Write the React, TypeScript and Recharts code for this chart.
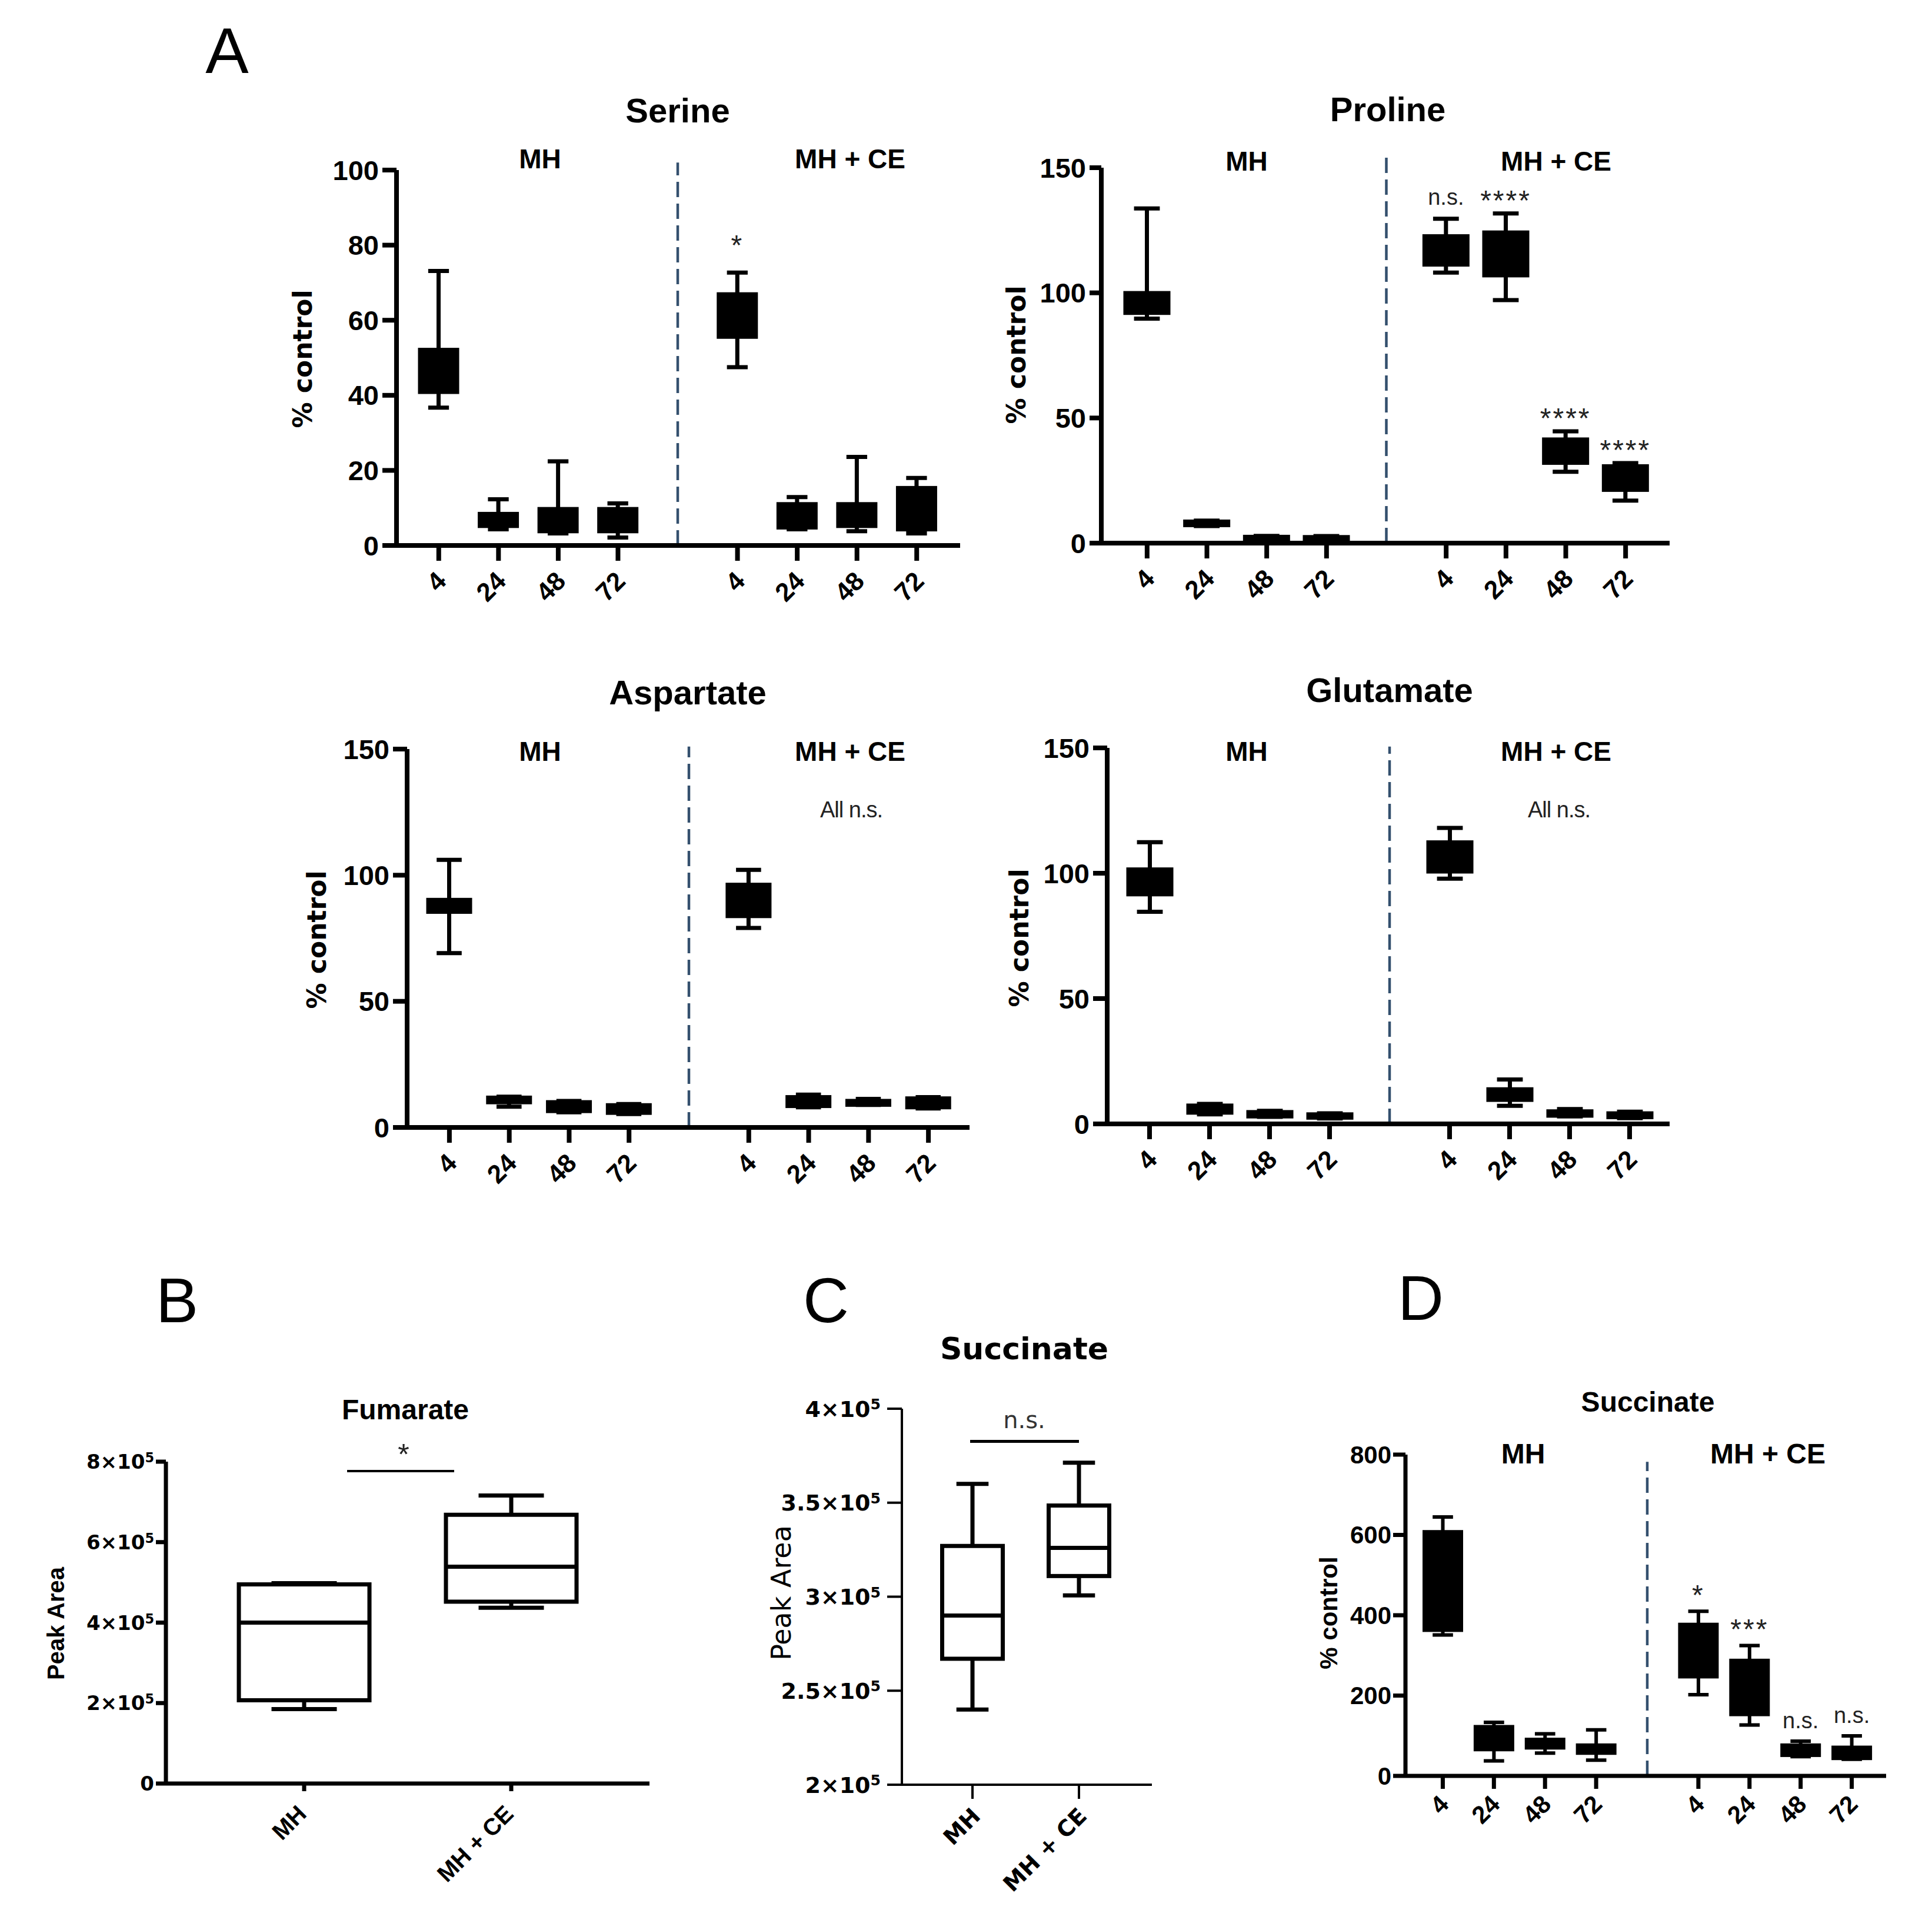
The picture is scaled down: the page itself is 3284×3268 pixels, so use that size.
import React from 'react';
import { ComposedChart, Bar, XAxis, YAxis, ReferenceLine, LabelList } from 'recharts';

// ---------- categories ----------
const hours = ['4', '24', '48', '72'];
const groups = ['MH', 'MH + CE'];

// ---------- Serine (% control) ----------
const serineMin = [36.7, 4.3, 3.2, 2.1, 47.5, 4.3, 3.8, 3.2];
const serineQ1 = [40.9, 5.2, 3.8, 3.8, 55.6, 4.8, 5.2, 4.3];
const serineMedian = [46, 7, 6, 6, 61, 8, 8, 9];
const serineQ3 = [52.1, 8.4, 9.7, 9.7, 66.9, 11.0, 11.0, 15.3];
const serineMax = [73.1, 12.3, 22.4, 11.2, 72.7, 12.9, 23.6, 18.0];
const serineSig = ['', '', '', '', '*', '', '', ''];
const serineTicks = [0, 20, 40, 60, 80, 100];

// ---------- Proline ----------
const prolineMin = [89.7, 6.8, 0.9, 0.9, 108.1, 97.1, 28.5, 17.0];
const prolineQ1 = [92.0, 7.2, 1.2, 1.1, 111.3, 107.0, 32.1, 21.3];
const prolineMedian = [96, 8, 2, 2, 117, 115, 37, 26];
const prolineQ3 = [99.9, 8.6, 2.5, 2.4, 122.6, 124.1, 41.4, 30.7];
const prolineMax = [133.7, 9.0, 2.9, 2.8, 129.6, 131.7, 44.7, 32.0];
const prolineSig = ['', '', '', '', 'n.s.', '****', '****', '****'];

// ---------- Aspartate ----------
const aspartateMin = [69.1, 8.2, 6.0, 5.3, 79.1, 8.0, 8.9, 7.5];
const aspartateQ1 = [85.5, 10.0, 6.5, 5.8, 83.8, 8.5, 9.0, 8.0];
const aspartateMedian = [88, 11, 8, 7, 90, 10, 10, 10];
const aspartateQ3 = [90.2, 11.8, 10.0, 8.8, 96.2, 12.0, 10.5, 11.5];
const aspartateMax = [106.1, 12.2, 10.5, 9.3, 102.1, 13.0, 11.3, 12.0];

// ---------- Glutamate ----------
const glutamateMin = [84.6, 3.8, 2.8, 2.2, 97.8, 7.2, 3.0, 2.3];
const glutamateQ1 = [91.6, 4.5, 3.0, 2.5, 100.7, 9.6, 3.3, 2.7];
const glutamateMedian = [97, 6, 4, 3, 107, 12, 4, 3.5];
const glutamateQ3 = [101.5, 7.3, 4.7, 3.8, 112.3, 13.8, 5.0, 4.2];
const glutamateMax = [112.4, 8.0, 5.2, 4.2, 118.1, 17.7, 5.9, 4.9];

const aminoTicks = [0, 50, 100, 150];

// ---------- Succinate (% control), panel D ----------
const succPctMin = [350.8, 37.2, 56.8, 39.3, 202.2, 126.8, 48.1, 41.5];
const succPctQ1 = [362.8, 65.6, 69.9, 56.8, 247.0, 153.0, 51.4, 43.7];
const succPctMedian = [480, 100, 80, 65, 310, 220, 65, 55];
const succPctQ3 = [607.7, 122.4, 90.7, 76.5, 377.0, 287.4, 76.5, 71.0];
const succPctMax = [644.8, 133.3, 104.9, 114.8, 409.8, 324.6, 86.3, 99.5];
const succPctSig = ['', '', '', '', '*', '***', 'n.s.', 'n.s.'];
const succPctTicks = [0, 200, 400, 600, 800];

// ---------- Fumarate peak area, panel B ----------
const fumarateMin = [185000, 437000];
const fumarateQ1 = [207000, 452000];
const fumarateMedian = [400000, 539000];
const fumarateQ3 = [495000, 668000];
const fumarateMax = [498000, 716000];
const fumarateTicks = [0, 200000, 400000, 600000, 800000];

// ---------- Succinate peak area, panel C ----------
const succAreaMin = [240000, 300700];
const succAreaQ1 = [267000, 311000];
const succAreaMedian = [290000, 326000];
const succAreaQ3 = [327000, 348500];
const succAreaMax = [360000, 371300];
const succAreaTicks = [200000, 250000, 300000, 350000, 400000];

const ARIAL = "'Liberation Sans', Arial, Helvetica, sans-serif";
const DEJAVU = "'DejaVu Sans', Verdana, sans-serif";

type Row = {
  key: string;
  range?: [number, number];
  q1?: number;
  med?: number;
  q3?: number;
  sig?: string;
};

function buildTimeRows(mn: number[], q1: number[], med: number[], q3: number[], mx: number[], sig?: string[]): Row[] {
  const rows: Row[] = [];
  groups.forEach((g, gi) => {
    if (gi === 1) rows.push({ key: 'sep' });
    hours.forEach((h, hi) => {
      const i = gi * hours.length + hi;
      rows.push({ key: `${g}|${h}`, range: [mn[i], mx[i]], q1: q1[i], med: med[i], q3: q3[i], sig: sig ? sig[i] : '' });
    });
  });
  return rows;
}

function buildGroupRows(mn: number[], q1: number[], med: number[], q3: number[], mx: number[]): Row[] {
  return groups.map((g, i) => ({ key: g, range: [mn[i], mx[i]] as [number, number], q1: q1[i], med: med[i], q3: q3[i], sig: '' }));
}

const makeBoxShape = (fill: string, lw: number, capRatio: number, median: boolean) => (props: any) => {
  const { x, y, width, height, payload } = props;
  if (!payload || !payload.range || width == null || y == null) return <g />;
  const [mn, mx] = payload.range;
  const top = Math.min(y, y + height);
  const h = Math.abs(height);
  const k = mx === mn ? 0 : h / (mx - mn);
  const py = (v: number) => top + (mx - v) * k;
  const cx = x + width / 2;
  const ch = (width * capRatio) / 2;
  const s = { stroke: '#000', strokeWidth: lw };
  return (
    <g>
      <line x1={cx} x2={cx} y1={py(mx)} y2={py(payload.q3)} {...s} />
      <line x1={cx} x2={cx} y1={py(payload.q1)} y2={py(mn)} {...s} />
      <line x1={cx - ch} x2={cx + ch} y1={py(mx)} y2={py(mx)} {...s} />
      <line x1={cx - ch} x2={cx + ch} y1={py(mn)} y2={py(mn)} {...s} />
      <rect x={x} y={py(payload.q3)} width={width} height={Math.max(0, py(payload.q1) - py(payload.q3))} fill={fill} {...s} />
      {median && <line x1={x} x2={x + width} y1={py(payload.med)} y2={py(payload.med)} {...s} />}
    </g>
  );
};

type PanelProps = {
  rows: Row[];
  plot: { left: number; top: number; right: number; bottom: number };
  domain: [number, number];
  ticks: number[];
  padL: number;
  padR: number;
  barSize: number;
  capRatio: number;
  lw: number;
  fill: string;
  median: boolean;
  axisW: number;
  yTickLen: number;
  yTickMargin: number;
  yFont: { size: number; family: string; weight: number };
  expTicks?: boolean;
  xTickLen: number;
  xDx: number;
  xDy: number;
  xFont: { size: number; family: string; weight: number };
  sepTop?: number;
  starOff?: number;
  nsOff?: number;
};

const YW = 230;
const XH = 240;
const MT = 90;
const MR = 40;

function ExpTick(props: any) {
  const { x, y, payload, font } = props;
  const v = payload.value as number;
  const common = { fontSize: font.size, fontFamily: font.family, fontWeight: font.weight, fill: '#000' };
  if (v === 0) {
    return (
      <text x={x} y={y} dy="0.36em" textAnchor="end" {...common}>0</text>
    );
  }
  const m = v / 100000;
  return (
    <text x={x} y={y} dy="0.36em" textAnchor="end" {...common}>
      {`${m}×10`}
      <tspan dy="-0.5em" fontSize={font.size * 0.66}>5</tspan>
    </text>
  );
}

function Panel(p: PanelProps) {
  const W = p.plot.right - p.plot.left + YW + MR;
  const H = p.plot.bottom - p.plot.top + MT + XH;
  const xTick = (tp: any) => {
    const { x, y, payload } = tp;
    const v = String(payload.value);
    if (v === 'sep') return <g />;
    const label = v.split('|').pop();
    const ax = x + p.xDx;
    const ay = y + p.xDy;
    return (
      <g>
        <line x1={x} x2={x} y1={y} y2={y + p.xTickLen} stroke="#000" strokeWidth={p.axisW} />
        <text
          x={ax}
          y={ay}
          dy="0.36em"
          textAnchor="end"
          transform={`rotate(-45 ${ax} ${ay})`}
          fontSize={p.xFont.size}
          fontFamily={p.xFont.family}
          fontWeight={p.xFont.weight}
          fill="#000"
        >
          {label}
        </text>
      </g>
    );
  };
  const sigContent = (lp: any) => {
    const { x, y, width, value } = lp;
    if (!value) return null;
    const ns = value === 'n.s.';
    return (
      <text
        x={x + width / 2}
        y={y - (ns ? p.nsOff ?? 20 : p.starOff ?? 10)}
        textAnchor="middle"
        fontFamily={ARIAL}
        fontSize={ns ? 38 : 48}
        letterSpacing={ns ? 0 : 3}
        fill="#222"
      >
        {value}
      </text>
    );
  };
  return (
    <div style={{ position: 'absolute', left: p.plot.left - YW, top: p.plot.top - MT, width: W, height: H }}>
      <ComposedChart width={W} height={H} data={p.rows} margin={{ top: MT, right: MR, left: 0, bottom: 0 }}>
        <XAxis
          dataKey="key"
          type="category"
          interval={0}
          height={XH}
          padding={{ left: p.padL, right: p.padR }}
          axisLine={{ stroke: '#000', strokeWidth: p.axisW }}
          tickLine={false}
          tickSize={0}
          tickMargin={0}
          tick={xTick}
        />
        <YAxis
          type="number"
          domain={p.domain}
          ticks={p.ticks}
          interval={0}
          width={YW}
          allowDataOverflow
          axisLine={{ stroke: '#000', strokeWidth: p.axisW }}
          tickLine={{ stroke: '#000', strokeWidth: p.axisW }}
          tickSize={p.yTickLen}
          tickMargin={p.yTickMargin}
          tick={
            p.expTicks
              ? (tp: any) => <ExpTick {...tp} font={p.yFont} />
              : { fontSize: p.yFont.size, fontFamily: p.yFont.family, fontWeight: p.yFont.weight, fill: '#000' }
          }
        />
        {p.sepTop != null && (
          <ReferenceLine
            segment={[
              { x: 'sep', y: p.domain[0] },
              { x: 'sep', y: p.sepTop },
            ]}
            ifOverflow="visible"
            stroke="#34506e"
            strokeWidth={4.5}
            strokeDasharray="26 11"
          />
        )}
        <Bar
          dataKey="range"
          barSize={p.barSize}
          isAnimationActive={false}
          shape={makeBoxShape(p.fill, p.lw, p.capRatio, p.median)}
        >
          <LabelList dataKey="sig" content={sigContent} />
        </Bar>
      </ComposedChart>
    </div>
  );
}

function T(props: {
  x: number;
  y: number;
  size: number;
  weight?: number;
  family?: string;
  rotate?: number;
  color?: string;
  spacing?: number;
  children: React.ReactNode;
}) {
  const { x, y, size, weight = 700, family = ARIAL, rotate = 0, color = '#000', spacing = 0, children } = props;
  return (
    <div
      style={{
        position: 'absolute',
        left: x,
        top: y,
        transform: `translate(-50%, -50%) rotate(${rotate}deg)`,
        fontSize: size,
        fontWeight: weight,
        fontFamily: family,
        color,
        whiteSpace: 'nowrap',
        lineHeight: 1,
        letterSpacing: spacing,
      }}
    >
      {children}
    </div>
  );
}

const aFontY = { size: 47, family: ARIAL, weight: 700 };
const aFontX = { size: 44, family: ARIAL, weight: 700 };

const aCommon = {
  capRatio: 0.56,
  lw: 7,
  fill: '#000',
  median: false,
  axisW: 8,
  yTickLen: 24,
  yTickMargin: 6,
  yFont: aFontY,
  xTickLen: 26,
  xDx: 4,
  xDy: 52,
  xFont: aFontX,
};

export default function App() {
  const serineRows = buildTimeRows(serineMin, serineQ1, serineMedian, serineQ3, serineMax, serineSig);
  const prolineRows = buildTimeRows(prolineMin, prolineQ1, prolineMedian, prolineQ3, prolineMax, prolineSig);
  const aspartateRows = buildTimeRows(aspartateMin, aspartateQ1, aspartateMedian, aspartateQ3, aspartateMax);
  const glutamateRows = buildTimeRows(glutamateMin, glutamateQ1, glutamateMedian, glutamateQ3, glutamateMax);
  const succPctRows = buildTimeRows(succPctMin, succPctQ1, succPctMedian, succPctQ3, succPctMax, succPctSig);
  const fumarateRows = buildGroupRows(fumarateMin, fumarateQ1, fumarateMedian, fumarateQ3, fumarateMax);
  const succAreaRows = buildGroupRows(succAreaMin, succAreaQ1, succAreaMedian, succAreaQ3, succAreaMax);

  return (
    <div style={{ position: 'absolute', left: 0, top: 0, width: 3284, height: 3268, background: '#fff', overflow: 'hidden' }}>
      {/* Panel letters */}
      <T x={386} y={86} size={110} weight={400}>A</T>
      <T x={301} y={2210} size={108} weight={400}>B</T>
      <T x={1404} y={2210} size={108} weight={400}>C</T>
      <T x={2415} y={2206} size={108} weight={400}>D</T>

      {/* Serine */}
      <Panel
        {...aCommon}
        rows={serineRows}
        plot={{ left: 674, top: 289, right: 1632, bottom: 927 }}
        domain={[0, 100]}
        ticks={serineTicks}
        padL={21}
        padR={23}
        barSize={63}
        sepTop={102}
        starOff={30}
      />
      <T x={1152} y={188} size={58}>Serine</T>
      <T x={918} y={270} size={46}>MH</T>
      <T x={1445} y={270} size={46}>MH + CE</T>
      <T x={515} y={610} size={44} family={DEJAVU} rotate={-90}>% control</T>

      {/* Proline */}
      <Panel
        {...aCommon}
        rows={prolineRows}
        plot={{ left: 1872, top: 285, right: 2838, bottom: 923 }}
        domain={[0, 150]}
        ticks={aminoTicks}
        padL={27}
        padR={24}
        barSize={73}
        capRatio={0.6}
        yTickLen={20}
        sepTop={154}
        starOff={6}
        nsOff={24}
      />
      <T x={2359} y={186} size={58}>Proline</T>
      <T x={2119} y={274} size={46}>MH</T>
      <T x={2645} y={274} size={46}>MH + CE</T>
      <T x={1728} y={603} size={44} family={DEJAVU} rotate={-90}>% control</T>

      {/* Aspartate */}
      <Panel
        {...aCommon}
        rows={aspartateRows}
        plot={{ left: 692, top: 1273, right: 1648, bottom: 1916 }}
        domain={[0, 150]}
        ticks={aminoTicks}
        padL={21}
        padR={19}
        barSize={71}
        capRatio={0.6}
        sepTop={151}
      />
      <T x={1169} y={1177} size={58}>Aspartate</T>
      <T x={918} y={1277} size={46}>MH</T>
      <T x={1445} y={1277} size={46}>MH + CE</T>
      <T x={1447} y={1376} size={38} weight={400} color="#222" spacing={-1}>All n.s.</T>
      <T x={539} y={1597} size={44} family={DEJAVU} rotate={-90}>% control</T>

      {/* Glutamate */}
      <Panel
        {...aCommon}
        rows={glutamateRows}
        plot={{ left: 1882, top: 1271, right: 2838, bottom: 1910 }}
        domain={[0, 150]}
        ticks={aminoTicks}
        padL={21}
        padR={17}
        barSize={73}
        capRatio={0.6}
        sepTop={150.5}
      />
      <T x={2362} y={1173} size={58}>Glutamate</T>
      <T x={2119} y={1277} size={46}>MH</T>
      <T x={2645} y={1277} size={46}>MH + CE</T>
      <T x={2650} y={1376} size={38} weight={400} color="#222" spacing={-1}>All n.s.</T>
      <T x={1733} y={1594} size={44} family={DEJAVU} rotate={-90}>% control</T>

      {/* B Fumarate */}
      <Panel
        rows={fumarateRows}
        plot={{ left: 282, top: 2484, right: 1104, bottom: 3031 }}
        domain={[0, 800000]}
        ticks={fumarateTicks}
        padL={59}
        padR={59}
        barSize={222}
        capRatio={0.5}
        lw={7}
        fill="#fff"
        median
        axisW={7}
        yTickLen={17}
        yTickMargin={3}
        yFont={{ size: 34, family: DEJAVU, weight: 700 }}
        expTicks
        xTickLen={13}
        xDx={-4}
        xDy={44}
        xFont={{ size: 40, family: ARIAL, weight: 700 }}
      />
      <T x={689} y={2396} size={48}>Fumarate</T>
      <div style={{ position: 'absolute', left: 590, top: 2498, width: 182, height: 4, background: '#000' }} />
      <T x={686} y={2472} size={50} weight={400} color="#222">*</T>
      <T x={95} y={2759} size={40} rotate={-90}>Peak Area</T>

      {/* C Succinate peak area */}
      <Panel
        rows={succAreaRows}
        plot={{ left: 1533, top: 2394, right: 1958, bottom: 3033 }}
        domain={[200000, 400000]}
        ticks={succAreaTicks}
        padL={29.5}
        padR={33.5}
        barSize={103}
        capRatio={0.53}
        lw={7}
        fill="#fff"
        median
        axisW={4}
        yTickLen={25}
        yTickMargin={11}
        yFont={{ size: 38, family: DEJAVU, weight: 700 }}
        expTicks
        xTickLen={24}
        xDx={6}
        xDy={46}
        xFont={{ size: 38, family: DEJAVU, weight: 700 }}
      />
      <T x={1741} y={2292} size={52} family={DEJAVU}>Succinate</T>
      <div style={{ position: 'absolute', left: 1649, top: 2447, width: 185, height: 5, background: '#000' }} />
      <T x={1741} y={2413} size={40} weight={400} family={DEJAVU} color="#333">n.s.</T>
      <T x={1328} y={2707} size={46} weight={400} family={DEJAVU} rotate={-90}>Peak Area</T>

      {/* D Succinate % control */}
      <Panel
        rows={succPctRows}
        plot={{ left: 2389, top: 2472, right: 3206, bottom: 3018 }}
        domain={[0, 800]}
        ticks={succPctTicks}
        padL={20}
        padR={15}
        barSize={63}
        capRatio={0.55}
        lw={6}
        fill="#000"
        median={false}
        axisW={7}
        yTickLen={21}
        yTickMargin={3}
        yFont={{ size: 42, family: ARIAL, weight: 700 }}
        xTickLen={22}
        xDx={2}
        xDy={40}
        xFont={{ size: 42, family: ARIAL, weight: 700 }}
        sepTop={782}
        starOff={11}
        nsOff={22}
      />
      <T x={2801} y={2383} size={48}>Succinate</T>
      <T x={2589} y={2471} size={48}>MH</T>
      <T x={3005} y={2471} size={48}>MH + CE</T>
      <T x={2259} y={2741} size={42} rotate={-90}>% control</T>
    </div>
  );
}
